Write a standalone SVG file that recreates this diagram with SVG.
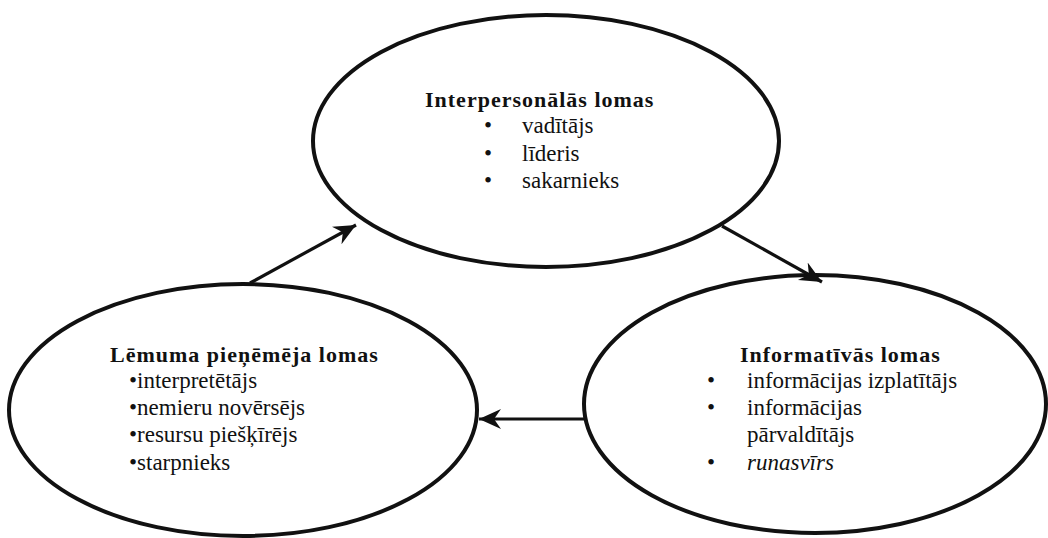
<svg xmlns="http://www.w3.org/2000/svg" width="1048" height="538" viewBox="0 0 1048 538">
<style>
.node{fill:#fff;stroke:#111;stroke-width:4}
.title{font-family:"Liberation Serif","Times New Roman",serif;font-size:22px;font-weight:bold;letter-spacing:1px;fill:#111}
.item{font-family:"Liberation Serif","Times New Roman",serif;font-size:23px;fill:#111}
.conn{stroke:#111;stroke-width:3.2;fill:none}
</style>
<defs>
<marker id="arr" markerUnits="userSpaceOnUse" markerWidth="24" markerHeight="22" refX="22" refY="10" orient="auto">
<path d="M0,0 L22,10 L0,20 L7,10 Z" fill="#111"/>
</marker>
</defs>
<rect width="1048" height="538" fill="#fff"/>
<g id="interpersonal">
<ellipse class="node" cx="546" cy="141" rx="233" ry="126"/>
<text class="title" x="425" y="107">Interpersonālās lomas</text>
<text class="item" x="484" y="133">•</text><text class="item" x="522" y="133">vadītājs</text>
<text class="item" x="484" y="161">•</text><text class="item" x="522" y="161">līderis</text>
<text class="item" x="484" y="188">•</text><text class="item" x="522" y="188">sakarnieks</text>
</g>
<g id="decision">
<ellipse class="node" cx="243" cy="410" rx="234" ry="126"/>
<text class="title" x="110" y="362">Lēmuma pieņēmēja lomas</text>
<text class="item" x="129" y="388">•interpretētājs</text>
<text class="item" x="129" y="415">•nemieru novērsējs</text>
<text class="item" x="129" y="442">•resursu piešķīrējs</text>
<text class="item" x="129" y="470">•starpnieks</text>
</g>
<g id="informational">
<ellipse class="node" cx="815" cy="404" rx="231" ry="129"/>
<text class="title" x="740" y="362">Informatīvās lomas</text>
<text class="item" x="707" y="388">•</text><text class="item" x="747" y="388">informācijas izplatītājs</text>
<text class="item" x="707" y="415">•</text><text class="item" x="747" y="415">informācijas</text>
<text class="item" x="747" y="442">pārvaldītājs</text>
<text class="item" x="707" y="470">•</text><text class="item" x="747" y="470" font-style="italic">runasvīrs</text>
</g>
<g id="connectors">
<line class="conn" x1="250" y1="283" x2="356" y2="225" marker-end="url(#arr)"/>
<line class="conn" x1="722" y1="226" x2="822" y2="282" marker-end="url(#arr)"/>
<line class="conn" x1="584" y1="419" x2="479" y2="419" marker-end="url(#arr)"/>
</g>
</svg>
